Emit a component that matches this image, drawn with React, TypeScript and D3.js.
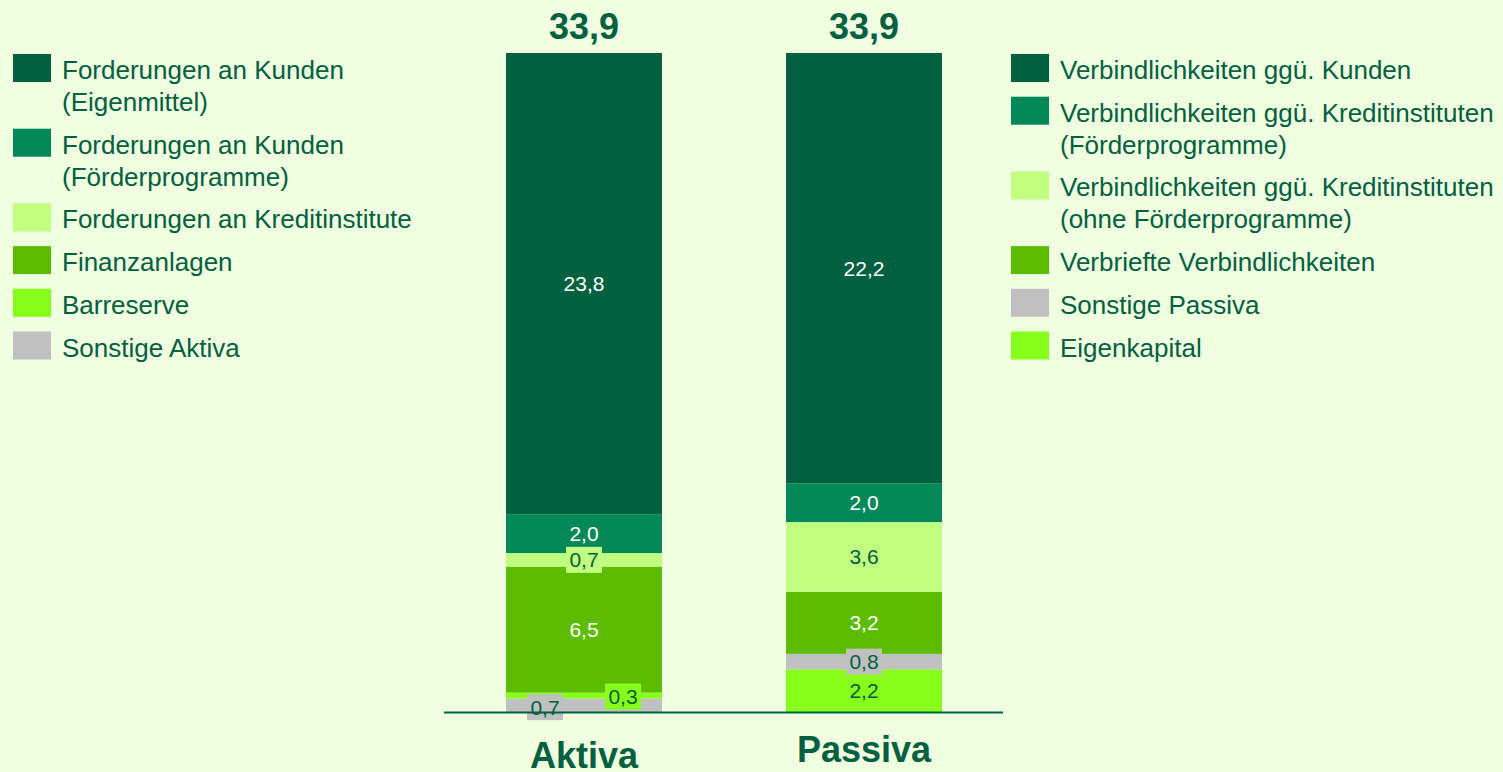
import { useEffect, useRef } from "react"
import * as d3 from "d3"

// Balance sheet data (bottom to top of each stacked bar)
const categories = ["Aktiva", "Passiva"]
const totals = [33.9, 33.9]

const aktivaNames = [
  ["Sonstige Aktiva"],
  ["Barreserve"],
  ["Finanzanlagen"],
  ["Forderungen an Kreditinstitute"],
  ["Forderungen an Kunden", "(Förderprogramme)"],
  ["Forderungen an Kunden", "(Eigenmittel)"],
]
const aktivaValues = [0.7, 0.3, 6.5, 0.7, 2.0, 23.8]

const passivaNames = [
  ["Eigenkapital"],
  ["Sonstige Passiva"],
  ["Verbriefte Verbindlichkeiten"],
  ["Verbindlichkeiten ggü. Kreditinstituten", "(ohne Förderprogramme)"],
  ["Verbindlichkeiten ggü. Kreditinstituten", "(Förderprogramme)"],
  ["Verbindlichkeiten ggü. Kunden"],
]
const passivaValues = [2.2, 0.8, 3.2, 3.6, 2.0, 22.2]

// styles
const aktivaColors = ["#c0c0c0", "#88ff1a", "#5cbc00", "#c0ff80", "#008858", "#006040"]
const passivaColors = ["#88ff1a", "#c0c0c0", "#5cbc00", "#c0ff80", "#008858", "#006040"]
const aktivaTextColors = ["#006040", "#006040", "#ffffff", "#006040", "#ffffff", "#ffffff"]
const passivaTextColors = ["#006040", "#006040", "#ffffff", "#006040", "#ffffff", "#ffffff"]
// label nudges for tiny segments
const aktivaLabelDx = [-39, 39, 0, 0, 0, 0]
const aktivaLabelDy = [2, 1, 0, 0, 0, 0]

const W = 1503
const H = 772
const DARK = "#006040"
const FONT = "'Liberation Sans', Arial, sans-serif"

export default function App() {
  const ref = useRef<SVGSVGElement>(null)

  useEffect(() => {
    const svg = d3.select(ref.current)
    svg.selectAll("*").remove()

    svg.append("rect")
      .attr("width", W)
      .attr("height", H)
      .attr("fill", "#f0ffe0")

    const x = d3.scaleBand<string>()
      .domain(categories)
      .range([444, 1004])
      .paddingInner(0.443)
      .paddingOuter(0.2214)

    const y = d3.scaleLinear().domain([0, 34]).range([712, 53])

    const series = [
      { values: aktivaValues, colors: aktivaColors, text: aktivaTextColors, dx: aktivaLabelDx, dy: aktivaLabelDy },
      { values: passivaValues, colors: passivaColors, text: passivaTextColors, dx: [0, 0, 0, 0, 0, 0], dy: [0, 0, 0, 0, 0, 0] },
    ]

    series.forEach((s, ci) => {
      const cat = categories[ci]
      const x0 = x(cat)!
      const bw = x.bandwidth()
      const ends = Array.from(d3.cumsum(s.values))
      const g = svg.append("g")

      s.values.forEach((v, i) => {
        const top = ends[i]
        const bottom = top - v
        g.append("rect")
          .attr("x", x0)
          .attr("y", y(top))
          .attr("width", bw)
          .attr("height", y(bottom) - y(top))
          .attr("fill", s.colors[i])
      })

      s.values.forEach((v, i) => {
        const top = ends[i]
        const cx = x0 + bw / 2 + s.dx[i]
        const cy = y(top - v / 2) + s.dy[i]
        if (v < 1) {
          g.append("rect")
            .attr("x", cx - 18)
            .attr("y", cy - 13)
            .attr("width", 36)
            .attr("height", 26)
            .attr("fill", s.colors[i])
        }
        g.append("text")
          .attr("x", cx)
          .attr("y", cy)
          .attr("dy", "0.358em")
          .attr("text-anchor", "middle")
          .attr("font-family", FONT)
          .attr("font-size", 21)
          .attr("fill", s.text[i])
          .text(d3.format(".1f")(v).replace(".", ","))
      })

      // total on top
      svg.append("text")
        .attr("x", x0 + bw / 2)
        .attr("y", 39)
        .attr("text-anchor", "middle")
        .attr("font-family", FONT)
        .attr("font-weight", "bold")
        .attr("font-size", 36)
        .attr("fill", DARK)
        .text(d3.format(".1f")(totals[ci]).replace(".", ","))

      // category label
      svg.append("text")
        .attr("x", x0 + bw / 2)
        .attr("y", ci === 0 ? 768 : 762)
        .attr("text-anchor", "middle")
        .attr("font-family", FONT)
        .attr("font-weight", "bold")
        .attr("font-size", 36)
        .attr("fill", DARK)
        .text(cat)
    })

    // baseline
    svg.append("line")
      .attr("x1", 444)
      .attr("x2", 1003)
      .attr("y1", y(0) + 0.5)
      .attr("y2", y(0) + 0.5)
      .attr("stroke", DARK)
      .attr("stroke-width", 2)

    // legends (top to bottom = reverse stack order)
    const drawLegend = (names: string[][], colors: string[], lx: number) => {
      const lg = svg.append("g")
      let yy = 54
      names.slice().reverse().forEach((lines, k) => {
        const color = colors.slice().reverse()[k]
        lg.append("rect")
          .attr("x", lx)
          .attr("y", yy)
          .attr("width", 38)
          .attr("height", 28)
          .attr("fill", color)
        lines.forEach((line, li) => {
          lg.append("text")
            .attr("x", lx + 49)
            .attr("y", yy + 25 + li * 32)
            .attr("font-family", FONT)
            .attr("font-size", 26)
            .attr("fill", DARK)
            .text(line)
        })
        yy += 42.7 + 32 * (lines.length - 1)
      })
    }
    drawLegend(aktivaNames, aktivaColors, 13)
    drawLegend(passivaNames, passivaColors, 1011)
  }, [])

  return (
    <svg
      ref={ref}
      width={W}
      height={H}
      style={{ position: "absolute", left: 0, top: 0, display: "block" }}
    />
  )
}
